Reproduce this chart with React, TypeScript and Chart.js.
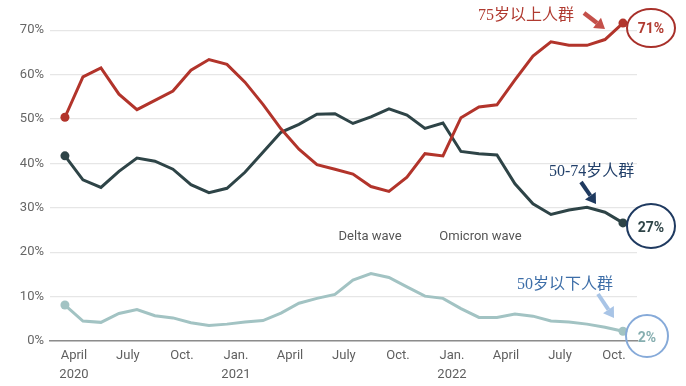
import React, { useEffect, useRef } from "react";
import { Chart, registerables } from "chart.js";

Chart.register(...registerables);

// Monthly data, mid-month, March 2020 – October 2022
const months = [
  "2020-03", "2020-04", "2020-05", "2020-06", "2020-07", "2020-08", "2020-09", "2020-10", "2020-11", "2020-12",
  "2021-01", "2021-02", "2021-03", "2021-04", "2021-05", "2021-06", "2021-07", "2021-08", "2021-09", "2021-10", "2021-11", "2021-12",
  "2022-01", "2022-02", "2022-03", "2022-04", "2022-05", "2022-06", "2022-07", "2022-08", "2022-09", "2022-10",
];

const age75plus = [
  50.4, 59.5, 61.5, 55.6, 52.1, 54.2, 56.3, 61.0, 63.4, 62.3,
  58.3, 53.3, 47.8, 43.2, 39.7, 38.7, 37.6, 34.8, 33.7, 36.9, 42.2, 41.7,
  50.3, 52.7, 53.2, 58.8, 64.2, 67.4, 66.6, 66.6, 67.9, 71.6,
];

const age50to74 = [
  41.7, 36.3, 34.6, 38.2, 41.2, 40.5, 38.7, 35.2, 33.4, 34.4,
  38.0, 42.5, 47.0, 48.8, 51.1, 51.2, 49.0, 50.5, 52.3, 50.9, 47.9, 49.1,
  42.7, 42.2, 41.9, 35.4, 30.9, 28.5, 29.5, 30.1, 29.0, 26.6,
];

const under50 = [
  8.1, 4.5, 4.2, 6.2, 7.1, 5.7, 5.2, 4.1, 3.5, 3.8,
  4.3, 4.6, 6.3, 8.5, 9.6, 10.5, 13.7, 15.2, 14.3, 12.2, 10.1, 9.6,
  7.3, 5.3, 5.3, 6.1, 5.6, 4.5, 4.3, 3.8, 3.1, 2.2,
];

// x tick positions = month index (0 = March 2020), at the start of the month
const xTickValues = [1, 4, 7, 10, 13, 16, 19, 22, 25, 28, 31];
const xTickLabels: (string | string[])[] = [
  ["April", "2020"], "July", "Oct.", ["Jan.", "2021"], "April", "July", "Oct.",
  ["Jan.", "2022"], "April", "July", "Oct.",
];
const yTickValues = [0, 10, 20, 30, 40, 50, 60, 70];

const labels75 = "75岁以上人群";
const labels5074 = "50-74岁人群";
const labelsU50 = "50岁以下人群";

const RED = "#b2342b";
const DARK = "#2e4447";
const LIGHT = "#a2c3c3";

function toPoints(values: number[]) {
  return values.map((v, i) => ({ x: i + 0.5, y: v }));
}

function drawArrow(ctx: CanvasRenderingContext2D, x1: number, y1: number, x2: number, y2: number, color: string, w: number) {
  const ang = Math.atan2(y2 - y1, x2 - x1);
  const head = 10;
  const bx = x2 - Math.cos(ang) * head;
  const by = y2 - Math.sin(ang) * head;
  ctx.save();
  ctx.strokeStyle = color;
  ctx.fillStyle = color;
  ctx.lineWidth = w;
  ctx.lineCap = "butt";
  ctx.beginPath();
  ctx.moveTo(x1, y1);
  ctx.lineTo(bx, by);
  ctx.stroke();
  const hw = 6.5;
  ctx.beginPath();
  ctx.moveTo(x2, y2);
  ctx.lineTo(bx + Math.cos(ang + Math.PI / 2) * hw, by + Math.sin(ang + Math.PI / 2) * hw);
  ctx.lineTo(bx + Math.cos(ang - Math.PI / 2) * hw, by + Math.sin(ang - Math.PI / 2) * hw);
  ctx.closePath();
  ctx.fill();
  ctx.restore();
}

const annotationPlugin = {
  id: "annotations",
  afterDatasetsDraw(chart: any) {
    const ctx: CanvasRenderingContext2D = chart.ctx;
    const ys = chart.scales.y;
    const xs = chart.scales.x;
    const right = chart.chartArea.right;

    ctx.save();
    // wave labels
    ctx.font = "13px Roboto, 'Liberation Sans', sans-serif";
    ctx.fillStyle = "#555555";
    ctx.textBaseline = "middle";
    ctx.textAlign = "left";
    ctx.fillText("Delta wave", xs.getPixelForValue(15.7), ys.getPixelForValue(23.5));
    ctx.fillText("Omicron wave", xs.getPixelForValue(21.3), ys.getPixelForValue(23.4));

    // group labels
    ctx.font = "16px 'Liberation Serif', 'Noto Sans CJK SC', serif";
    ctx.textAlign = "left";
    ctx.fillStyle = "#b03a30";
    ctx.fillText(labels75, 478, 16);
    ctx.fillStyle = "#22406a";
    ctx.fillText(labels5074, 549, 172);
    ctx.fillStyle = "#3d6ea8";
    ctx.fillText(labelsU50, 517, 285);

    // arrows
    drawArrow(ctx, 584, 13, 605, 29, "#c4504a", 4.5);
    drawArrow(ctx, 581, 182, 596, 204, "#1f3a60", 4);
    drawArrow(ctx, 598, 294, 614, 318, "#a8c4e6", 4);

    // circles
    ctx.lineWidth = 2;
    ctx.strokeStyle = "#a8302a";
    ctx.beginPath();
    ctx.ellipse(right + 14, 28, 24, 19, 0, 0, Math.PI * 2);
    ctx.stroke();
    ctx.strokeStyle = "#1f3a60";
    ctx.beginPath();
    ctx.ellipse(right + 14, 226, 24, 22, 0, 0, Math.PI * 2);
    ctx.stroke();
    ctx.strokeStyle = "#86aad9";
    ctx.beginPath();
    ctx.ellipse(right + 10, 336, 21, 21, 0, 0, Math.PI * 2);
    ctx.stroke();

    ctx.font = "bold 14px Roboto, 'Liberation Sans', sans-serif";
    ctx.textAlign = "center";
    ctx.fillStyle = "#b03a30";
    ctx.fillText("71%", right + 14, 29);
    ctx.fillStyle = "#2e4447";
    ctx.fillText("27%", right + 14, 228);
    ctx.fillStyle = "#86aeb0";
    ctx.fillText("2%", right + 10, 338);
    ctx.restore();
  },
};

export default function App() {
  const ref = useRef<HTMLCanvasElement | null>(null);

  useEffect(() => {
    if (!ref.current) return;
    const last = months.length - 1;
    const radius = (c: any) => (c.dataIndex === 0 || c.dataIndex === last ? 4.5 : 0);
    const mk = (label: string, values: number[], color: string) => ({
      label,
      data: toPoints(values),
      borderColor: color,
      backgroundColor: color,
      borderWidth: 3,
      pointRadius: radius,
      pointHoverRadius: radius,
      pointBorderWidth: 0,
      pointBackgroundColor: color,
      tension: 0,
    });

    const chart = new Chart(ref.current, {
      type: "line",
      data: {
        datasets: [
          mk("75+", age75plus, RED),
          mk("50-74", age50to74, DARK),
          mk("<50", under50, LIGHT),
        ],
      },
      options: {
        animation: false,
        responsive: true,
        maintainAspectRatio: false,
        layout: { padding: { top: 2, right: 49, left: 0, bottom: 0 } },
        plugins: { legend: { display: false }, tooltip: { enabled: false } },
        scales: {
          x: {
            type: "linear",
            min: -0.33,
            max: 32.28,
            afterBuildTicks: (scale: any) => {
              scale.ticks = xTickValues.map((v) => ({ value: v }));
            },
            afterFit: (scale: any) => {
              scale.height = 45;
            },
            grid: { display: false, drawTicks: false },
            border: { display: true, color: "#8c8c8c", width: 1.5 },
            ticks: {
              autoSkip: false,
              maxRotation: 0,
              padding: 6,
              color: "#5f5f5f",
              font: { family: "Roboto, 'Liberation Sans', sans-serif", size: 13, lineHeight: 1.42 },
              callback: (v: any) => {
                const i = xTickValues.indexOf(Number(v));
                return i >= 0 ? xTickLabels[i] : "";
              },
            },
          },
          y: {
            type: "linear",
            min: 0,
            max: 73.7,
            afterBuildTicks: (scale: any) => {
              scale.ticks = yTickValues.map((v) => ({ value: v }));
            },
            afterFit: (scale: any) => {
              scale.width = 50;
            },
            grid: { color: "#e6e6e6", lineWidth: 1.2, drawTicks: false },
            border: { display: false },
            ticks: {
              padding: 6,
              color: "#666666",
              font: { family: "Roboto, 'Liberation Sans', sans-serif", size: 13 },
              callback: (v: any) => `${v}%`,
            },
          },
        },
      },
      plugins: [annotationPlugin],
    });
    return () => chart.destroy();
  }, []);

  return (
    <div style={{ position: "fixed", left: 0, top: 0, width: 686, height: 386, background: "#fff" }}>
      <canvas ref={ref} />
    </div>
  );
}
